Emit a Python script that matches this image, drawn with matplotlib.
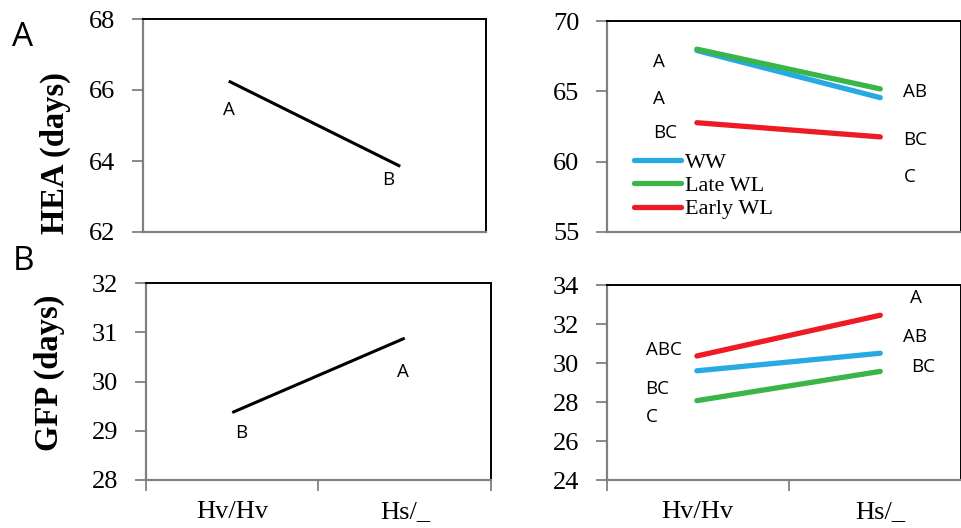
import matplotlib
matplotlib.use("Agg")
import matplotlib.pyplot as plt

# data
genotypes = ['Hv/Hv', 'Hs/_']
treatments = ['WW', 'Late WL', 'Early WL']

hea_mean = [66.25, 63.85]
hea_letters = ['A', 'B']
gfp_mean = [29.37, 30.88]
gfp_letters = ['B', 'A']

hea_ww = [67.9, 64.55]
hea_late = [68.0, 65.17]
hea_early = [62.77, 61.76]
gfp_ww = [29.6, 30.5]
gfp_late = [28.07, 29.57]
gfp_early = [30.36, 32.45]

# letter groups, left column / right column (top to bottom)
hea_trt_letters = [['A', 'A', 'BC'], ['AB', 'BC', 'C']]
gfp_trt_letters = [['ABC', 'BC', 'C'], ['A', 'AB', 'BC']]

colors = ['#27aae1', '#39b54a', '#ed1c24']
serif = 'Liberation Serif'
sans = 'Open Sans'
lsize = 13.5
W, H = 962, 528

fig = plt.figure(figsize=(W / 100, H / 100), dpi=100)


def px_axes(x0, y0, x1, y1):
    return fig.add_axes([x0 / W, 1 - y1 / H, (x1 - x0) / W, (y1 - y0) / H])


def style(ax, ylim, yticks, xlim, bounds, xlabels):
    ax.set_ylim(*ylim)
    ax.set_yticks(yticks)
    ax.set_xlim(*xlim)
    for s in ['top', 'right']:
        ax.spines[s].set_color('black')
        ax.spines[s].set_linewidth(1.4)
    for s in ['left', 'bottom']:
        ax.spines[s].set_color('#808080')
        ax.spines[s].set_linewidth(1.6)
    ax.tick_params(axis='y', direction='out', length=8, width=1.3, color='#808080',
                   pad=12, labelsize=19)
    for lab in ax.get_yticklabels():
        lab.set_fontfamily(serif)
    if xlabels:
        ax.set_xticks(bounds)
        ax.set_xticklabels([])
        ax.tick_params(axis='x', which='major', direction='out', length=8, width=1.3,
                       color='#808080')
        ax.set_xticks([0, 1], minor=True)
        ax.set_xticklabels(genotypes, minor=True, fontfamily=serif, fontsize=19)
        ax.tick_params(axis='x', which='minor', length=0, pad=15)
    else:
        ax.set_xticks([])


x = [0, 1]

# ---- A left
ax1 = px_axes(143, 19, 486, 232)
ax1.plot(x, hea_mean, color='black', lw=2.2, solid_capstyle='butt')
style(ax1, (62, 68), [62, 64, 66, 68], (-0.5, 1.5), [], False)
ax1.text(0.0, 65.44, hea_letters[0], ha='center', va='center', fontfamily=sans, fontsize=lsize)
ax1.text(0.93, 63.46, hea_letters[1], ha='center', va='center', fontfamily=sans, fontsize=lsize)
ax1.set_ylabel('HEA (days)', fontfamily=serif, fontweight='bold', fontsize=23.5)
ax1.yaxis.set_label_coords(-0.21, 0.37)

# ---- A right
ax2 = px_axes(607, 21, 961, 232)
for vals, c, lab in zip([hea_ww, hea_late, hea_early], colors, treatments):
    ax2.plot(x, vals, color=c, lw=3.8, solid_capstyle='round', label=lab)
style(ax2, (55, 70), [55, 60, 65, 70], (-0.49, 1.44), [], False)
for t, yy in zip(hea_trt_letters[0], [67.09, 64.46, 62.04]):
    ax2.text(-0.24, yy, t, ha='left', va='center', fontfamily=sans, fontsize=lsize)
for t, yy in zip(hea_trt_letters[1], [64.95, 61.54, 58.91]):
    ax2.text(1.126, yy, t, ha='left', va='center', fontfamily=sans, fontsize=lsize)
leg = ax2.legend(loc='upper left', bbox_to_anchor=(0.045, 0.43), frameon=False,
                 handlelength=2.1, handletextpad=0.2, labelspacing=0.12, borderpad=0,
                 prop={'family': serif, 'size': 16})

# ---- B left
ax3 = px_axes(146, 283, 491, 480)
ax3.plot(x, gfp_mean, color='black', lw=2.2, solid_capstyle='butt')
style(ax3, (28, 32), [28, 29, 30, 31, 32], (-0.5, 1.5), [-0.5, 0.5, 1.5], True)
ax3.text(0.05, 28.95, gfp_letters[0], ha='center', va='center', fontfamily=sans, fontsize=lsize)
ax3.text(0.99, 30.19, gfp_letters[1], ha='center', va='center', fontfamily=sans, fontsize=lsize)
ax3.set_ylabel('GFP (days)', fontfamily=serif, fontweight='bold', fontsize=23.5)
ax3.yaxis.set_label_coords(-0.235, 0.543)

# ---- B right
ax4 = px_axes(607, 285, 961, 480)
for vals, c, lab in zip([gfp_ww, gfp_late, gfp_early], colors, treatments):
    ax4.plot(x, vals, color=c, lw=3.8, solid_capstyle='round', label=lab)
style(ax4, (24, 34), [24, 26, 28, 30, 32, 34], (-0.49, 1.44), [-0.49, 0.5], True)
for t, yy in zip(gfp_trt_letters[0], [30.67, 28.67, 27.23]):
    ax4.text(-0.28, yy, t, ha='left', va='center', fontfamily=sans, fontsize=lsize)
for t, xx, yy in zip(gfp_trt_letters[1], [1.164, 1.126, 1.169], [33.33, 31.33, 29.8]):
    ax4.text(xx, yy, t, ha='left', va='center', fontfamily=sans, fontsize=lsize)

# panel letters
fig.text(23 / W, 1 - 37 / H, 'A', ha='center', va='center', fontfamily=sans, fontsize=24)
fig.text(23 / W, 1 - 261 / H, 'B', ha='center', va='center', fontfamily=sans, fontsize=24)

fig.savefig('out.png', dpi=100)
